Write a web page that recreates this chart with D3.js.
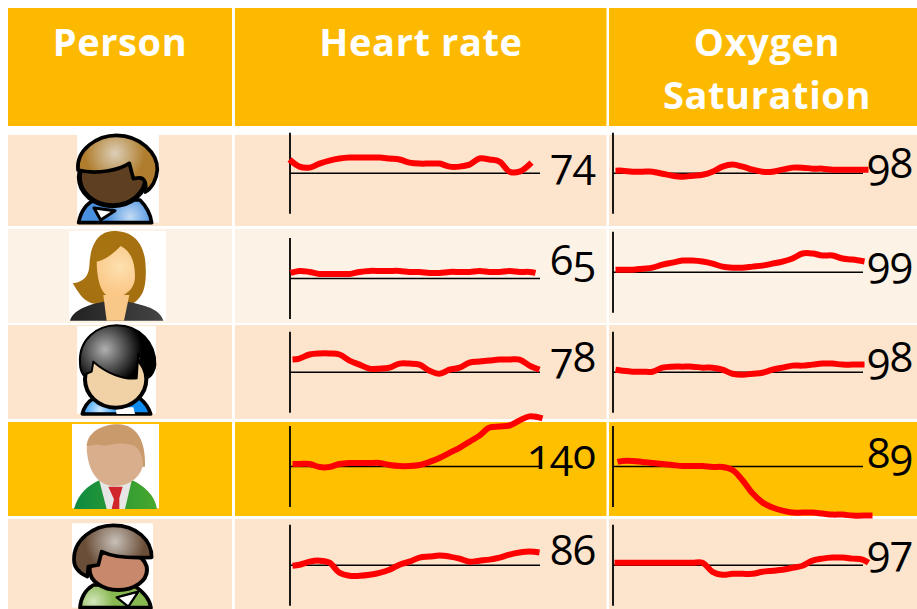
<!DOCTYPE html>
<html>
<head>
<meta charset="utf-8">
<script src="https://cdn.jsdelivr.net/npm/d3@7"></script>
<style>
  html, body { margin: 0; padding: 0; background: #fff; }
  svg { display: block; }
  .head { font-family: "Open Sans"; font-weight: 700; font-size: 38px; letter-spacing: 0.6px; fill: #fff; text-anchor: middle; }
  .num { font-family: "Open Sans"; font-size: 42px; fill: #000; text-anchor: end; font-feature-settings: "onum"; font-variant-numeric: oldstyle-nums; }
</style>
</head>
<body>
<svg width="917" height="609"></svg>
<script>
// values are offsets from each row's reference line, one sample per time step
const people = ["p1", "p2", "p3", "p4", "p5"];
const heartLabels = ["74", "65", "78", "140", "86"];
const oxygenLabels = ["98", "99", "98", "89", "97"];

const heart1 = [13, 6, 5, 9, 12, 14, 15, 15, 15, 15, 14, 13, 10, 9, 9, 9, 6, 6, 8, 14, 13, 11, 1, 1, 10];
const heart2 = [5, 7, 6, 4, 4, 4, 4, 6, 7, 7, 7, 7, 6, 6, 5, 5, 6, 6, 6, 7, 6, 6, 7, 6, 6, 5];
const heart3 = [12, 13, 17, 18, 18, 17, 11, 7, 3, 3, 4, 8, 8, 7, 1, -2, 2, 4, 9, 10, 11, 12, 12, 12, 6, 2];
const heart4 = [2, 2, 2, -1, -1, 2, 3, 3, 3, 3, 1, 0, 0, 1, 4, 8, 13, 18, 24, 30, 38, 39, 40, 45, 49, 47];
const heart5 = [-1, 0, 3, 4, 2, -8, -11, -11, -10, -8, -5, 0, 3, 7, 8, 9, 8, 6, 3, 4, 5, 7, 10, 12, 13, 12];
const heartSpans = [[0, 24.2], [0.1, 24.6], [0.3, 25], [0.3, 25.3], [0.3, 25]];

const oxygen1 = [2, 2, 1, 1, 1, -1, -3, -4, -3, -2, 1, 6, 8, 6, 3, 1, 1, 3, 5, 5, 4, 4, 3, 3, 3, 3];
const oxygen2 = [2, 2, 2, 3, 4, 7, 9, 11, 11, 10, 8, 5, 4, 4, 5, 6, 8, 10, 13, 18, 18, 16, 16, 13, 12, 10];
const oxygen3 = [2, 1, 0, 0, 0, 4, 5, 5, 5, 4, 4, 2, -2, -3, -2, -1, 2, 4, 6, 6, 7, 8, 8, 7, 7, 7];
const oxygen4 = [4, 5, 5, 4, 3, 2, 1, 0, 0, 0, -1, -1, -4, -14, -27, -36, -41, -44, -46, -46, -46, -47, -48, -48, -49, -49, -49];
const oxygen5 = [2, 2, 2, 2, 2, 2, 2, 2, 2, 2, -7, -10, -9, -9, -9, -7, -6, -5, -3, -1, 4, 6, 7, 7, 6, 5, 2];
const oxygenSpans = [[0.3, 25.6], [0.3, 25.2], [0.3, 25.2], [0.5, 26], [0.2, 25.6]];

const heartSeries = [heart1, heart2, heart3, heart4, heart5];
const oxygenSeries = [oxygen1, oxygen2, oxygen3, oxygen4, oxygen5];

const svg = d3.select("svg");

// table layout
const rowTops = [135, 229, 325, 422, 519];
const rowBottoms = [226, 323, 419, 516, 609];
const rowFills = ["#fde4cc", "#fdf2e6", "#fde4cc", "#ffc000", "#fde4cc"];
const cols = [[8, 232], [235, 606.5], [609, 917]];
const heartBase = [172.7, 278, 371.7, 466, 564.7];
const oxygenBase = [172.7, 271.7, 371.7, 466, 564.7];
// the numbers sit at slightly different heights in each row
const heartLabelDy = [5, -3, 0, 3, 0];
const oxygenLabelDy = [5, 4, 0, 2, 0];

cols.forEach(function (c) {
  svg.append("rect").attr("x", c[0]).attr("y", 8).attr("width", c[1] - c[0]).attr("height", 118).attr("fill", "#fdb900");
  rowTops.forEach(function (top, i) {
    svg.append("rect").attr("x", c[0]).attr("y", top).attr("width", c[1] - c[0])
      .attr("height", rowBottoms[i] - top).attr("fill", rowFills[i]);
  });
});

svg.append("text").attr("class", "head").attr("x", 120).attr("y", 56).text("Person");
svg.append("text").attr("class", "head").attr("x", 421).attr("y", 56).text("Heart rate");
svg.append("text").attr("class", "head").attr("x", 767).attr("y", 56).text("Oxygen");
svg.append("text").attr("class", "head").attr("x", 767).attr("y", 109).text("Saturation");

// sparkline scales, shared by every row
const xHeart = d3.scaleLinear().domain([0, 25]).range([289.5, 539.5]);
const xOxygen = d3.scaleLinear().domain([0, 25]).range([612.5, 862.5]);
const yDelta = d3.scaleLinear().domain([-40, 40]).range([40.5, -40.5]);

function drawSpark(x, series, span, base, label, labelX, labelDy) {
  const g = svg.append("g").attr("transform", "translate(0," + base + ")");
  g.append("g").call(d3.axisBottom(x).tickValues([]).tickSizeOuter(0))
    .select(".domain").attr("stroke", "#000").attr("stroke-width", 1.6);
  g.append("g").attr("transform", "translate(" + x(0) + ",0)")
    .call(d3.axisLeft(yDelta).tickValues([]).tickSizeOuter(0))
    .select(".domain").attr("stroke", "#000").attr("stroke-width", 1.8);

  g.append("text").attr("class", "num").attr("x", labelX).attr("y", labelDy).text(label);

  const n = series.length;
  const line = d3.line()
    .x(function (d, i) { return x(i === 0 ? span[0] : i === n - 1 ? span[1] : i); })
    .y(function (d) { return yDelta(d); })
    .curve(d3.curveCatmullRom);
  g.append("path").datum(series).attr("d", line)
    .attr("fill", "none").attr("stroke", "#ff0000").attr("stroke-width", 6).attr("stroke-linejoin", "round");
}

people.forEach(function (p, i) {
  drawSpark(xHeart, heartSeries[i], heartSpans[i], heartBase[i], heartLabels[i], 596, heartLabelDy[i]);
  drawSpark(xOxygen, oxygenSeries[i], oxygenSpans[i], oxygenBase[i], oxygenLabels[i], 913, oxygenLabelDy[i]);
});

// avatars, drawn by hand
const defs = svg.append("defs");
function radial(id, cx, cy, r, from, to) {
  const g = defs.append("radialGradient").attr("id", id).attr("gradientUnits", "userSpaceOnUse")
    .attr("cx", cx).attr("cy", cy).attr("r", r);
  g.append("stop").attr("offset", "0").attr("stop-color", from);
  g.append("stop").attr("offset", "1").attr("stop-color", to);
}
function linear(id, x1, x2, from, to) {
  const g = defs.append("linearGradient").attr("id", id).attr("gradientUnits", "userSpaceOnUse")
    .attr("x1", x1).attr("x2", x2).attr("y1", 0).attr("y2", 0);
  g.append("stop").attr("offset", "0").attr("stop-color", from);
  g.append("stop").attr("offset", "1").attr("stop-color", to);
}
radial("hair1", 345, 100, 90, "#dccfb8", "#b07d2e");
radial("shirt1", 390, 290, 70, "#c4dcf4", "#4a90e0");
radial("hair2", 300, 420, 170, "#a87410", "#a56f10");
radial("face2", 360, 440, 80, "#fde0b0", "#fbc887");
linear("jacket2", 210, 490, "#222", "#444");
radial("hair3", 315, 88, 110, "#b0b0b0", "#000");
radial("shirt3", 300, 270, 60, "#cfe8ff", "#108cf0");
linear("suit4", 222, 471, "#0c8a40", "#4aa82c");
radial("hair5", 345, 665, 90, "#c8c0b8", "#6a4e38");
radial("shirt5", 280, 845, 60, "#d4e6bc", "#88b850");

function avatar(ox, oy, box, shapes) {
  const g = svg.append("g").attr("transform", "translate(" + ox + "," + oy + ") scale(0.3333)");
  g.append("rect").attr("x", box[0]).attr("y", box[1]).attr("width", box[2] - box[0]).attr("height", box[3] - box[1]).attr("fill", "#fff");
  shapes.forEach(function (s) {
    g.append("path").attr("d", s[0]).attr("fill", s[1])
      .attr("stroke", s[2] ? "#000" : "none").attr("stroke-width", s[2] || 0).attr("stroke-linejoin", "round");
  });
}
function oval(cx, cy, rx, ry) {
  return "M" + (cx - rx) + "," + cy + "A" + rx + "," + ry + " 0 1 1 " + (cx + rx) + "," + cy + "A" + rx + "," + ry + " 0 1 1 " + (cx - rx) + "," + cy + "Z";
}

avatar(0, 120, [231, 44, 477, 308], [
  ["M236,308C242,272 262,248 285,240L420,240C440,260 452,285 455,308Z", "url(#shirt1)", 11],
  ["M282,264L302,300L345,272Z", "#fff", 9],
  [oval(338, 172, 100, 85), "#5e3f22", 15],
  ["M234,150C228,90 290,46 350,46C420,46 474,100 472,150C470,180 455,205 436,216C440,190 435,170 412,174L400,176L388,130C360,150 290,165 234,150Z", "url(#hair1)", 11]
]);
avatar(0, 120, [207, 333, 498, 602], [
  ["M340,333C290,335 270,380 268,440C265,470 250,485 218,490C235,515 250,550 290,552L400,550C430,530 440,500 437,440C435,380 410,333 340,333Z", "url(#hair2)"],
  ["M210,602C220,570 260,555 310,545L385,545C430,555 480,565 490,602Z", "url(#jacket2)"],
  ["M310,525L320,602L372,602L388,525Z", "#f8c888"],
  ["M290,425C320,420 345,395 362,378C395,395 405,430 405,470C405,510 370,532 340,532C310,530 292,500 290,425Z", "url(#face2)"]
]);
avatar(0, 320, [231, 18, 468, 282], [
  ["M247,282C252,260 265,245 280,235L420,235C438,250 447,265 452,282Z", "url(#shirt3)", 11],
  ["M345,262L400,262L405,282L350,282Z", "#fff"],
  [oval(347, 178, 92, 85), "#f0d2a6", 12],
  ["M240,130C235,60 290,16 350,16C420,16 468,70 466,135C465,150 455,170 440,175L437,150L415,100L410,175C370,180 320,160 280,125L275,155L250,165C243,155 240,145 240,130Z", "url(#hair3)", 6]
]);
avatar(0, 320, [216, 312, 477, 565], [
  ["M222,567C235,520 265,495 300,480L395,480C430,495 465,525 471,567Z", "url(#suit4)"],
  ["M298,482L320,567L375,567L395,482Z", "#e6e6e6"],
  ["M325,500L368,500L358,535L358,567L335,567L342,538Z", "#d0252a"],
  ["M260,378C262,335 310,312 355,313C410,315 437,360 435,440L400,440Z", "#c99a6c"],
  ["M260,380C285,368 310,378 325,376C350,368 385,368 405,378C425,395 430,420 428,440C415,480 380,498 345,498C300,498 262,460 260,380Z", "#d9ae8c"]
]);
avatar(0, 320, [216, 610, 459, 863], [
  ["M240,863C242,835 256,810 280,795L400,795C430,815 450,840 453,863Z", "url(#shirt5)", 11],
  ["M350,832L415,815L385,860Z", "#fff", 7],
  [oval(355, 750, 86, 60), "#c8886c", 12],
  ["M222,720C220,660 280,616 340,616C410,616 455,660 455,712C400,715 340,712 305,695L295,735L265,740L262,770C240,760 222,745 222,720Z", "url(#hair5)", 11]
]);
</script>
</body>
</html>
